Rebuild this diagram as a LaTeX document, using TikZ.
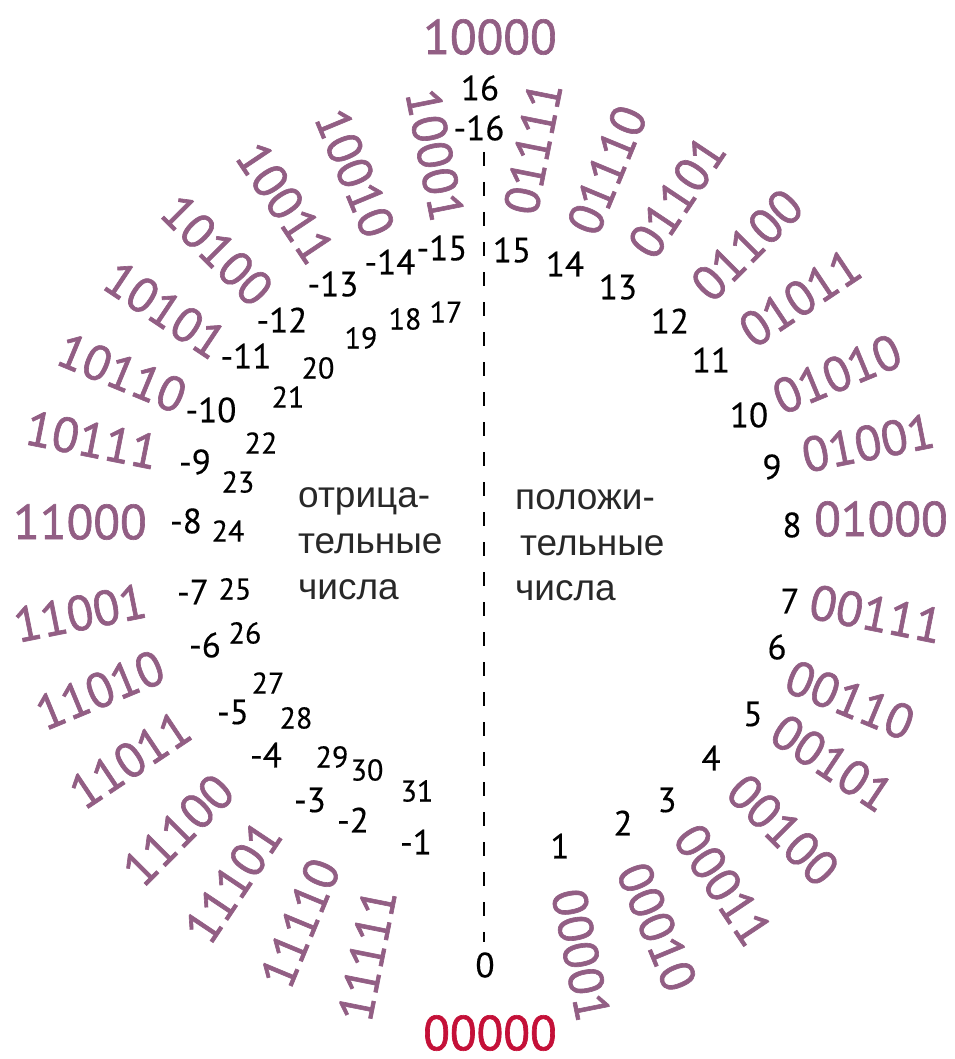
\documentclass[tikz,border=0pt]{standalone}
\usepackage{fontspec}
\setmainfont{PT Sans}
\newfontfamily\binfont{PT Sans}[FakeBold=1.3]
\newfontfamily\numfont{PT Sans}[FakeBold=0.4]
\newfontfamily\txtfont{Liberation Sans}
\definecolor{binc}{RGB}{146,94,132}
\definecolor{zeroc}{RGB}{196,16,56}
\definecolor{txtc}{RGB}{40,40,40}
\begin{document}
\begin{tikzpicture}[x=1pt,y=1pt,
  bin/.style={font=\binfont\fontsize{49}{49}\selectfont, text=binc, inner sep=0pt},
  zerobin/.style={font=\binfont\fontsize{49}{49}\selectfont, text=zeroc, inner sep=0pt},
  num/.style={font=\numfont\fontsize{35}{35}\selectfont, inner sep=0pt},
  sm/.style={font=\numfont\fontsize{30}{30}\selectfont, inner sep=0pt},
  lbl/.style={font=\txtfont\fontsize{37}{37}\selectfont, text=txtc, inner sep=0pt, anchor=base west},
  axis/.style={line width=2pt, dash pattern=on 14pt off 16pt}]
\useasboundingbox (0,0) rectangle (954,-1059);
% binary codes
\node[zerobin] (b0) at (490,-1033) {00000};
\node[bin] (b16) at (490,-37) {10000};
\foreach \k/\x/\y/\r/\s in {
  1/581/955/-78.75/00001, 2/657/927/-67.5/00010, 3/723/885/-56.25/00011,
  4/783/830/-45/00100, 5/832/763/-33.75/00101, 6/850/700/-22.5/00110,
  7/876/614/-11.25/00111, 8/881/519/0/01000, 9/868/443/11.25/01001,
  10/837/374/22.5/01010, 11/800/298/33.75/01011, 12/747/245/45/01100,
  13/677/197/56.25/01101, 14/607/170/67.5/01110, 15/533/148/78.75/01111,
  17/435/155/-78.75/10001, 18/355/173/-67.5/10010, 19/285/203/-56.25/10011,
  20/217/250/-45/10100, 21/165/310/-33.75/10101, 22/122/373/-22.5/10110,
  23/92/440/-11.25/10111, 24/80/522/0/11000, 25/80/613/11.25/11001,
  26/100/690/22.5/11010, 27/130/760/33.75/11011, 28/178/830/45/11100,
  29/233/882/56.25/11101, 30/300/923/67.5/11110, 31/367/955/78.75/11111}
  {\node[bin, rotate=\r] (b\k) at (\x,-\y) {\s};}
% positive numbers
\foreach \k/\x/\y in {0/485/965, 1/560/846, 2/623/823, 3/667/800, 4/711/758,
  5/753/714, 6/777/647, 7/790/601, 8/792/525, 9/772/467, 10/749/415,
  11/711/360, 12/670/321, 13/618/287, 14/565/264, 15/512/250, 16/480/88}
  {\node[num] (p\k) at (\x,-\y) {\k};}
% negative numbers
\foreach \k/\x/\y in {1/416/842, 2/353/820, 3/310/800, 4/266/755, 5/233/712,
  6/205/645, 7/193/592, 8/186/521, 9/195/462, 10/211/410, 11/246/356,
  12/282/320, 13/333/284, 14/390/262, 15/442/248, 16/479/128}
  {\node[num] (n\k) at (\x,-\y) {-\k};}
% inner numbers 17..31
\foreach \k/\x/\y in {17/446/312, 18/405/319, 19/361/338, 20/318/368,
  21/288/397, 22/261/443, 23/238/482, 24/228/531, 25/235/589, 26/245/633,
  27/268/683, 28/296/718, 29/332/757, 30/367/770, 31/417/791}
  {\node[sm] (q\k) at (\x,-\y) {\k};}
% dividing line
\coordinate (dtop) at (484,-152);
\coordinate (dbot) at (484,-942);
\draw[axis] (dtop) -- (dbot);
% captions
\node[lbl] (tl1) at (298,-507) {отрица-};
\node[lbl] (tl2) at (298,-553) {тельные};
\node[lbl] (tl3) at (298,-599) {числа};
\node[lbl] (tr1) at (515,-509) {положи-};
\node[lbl] (tr2) at (520,-555) {тельные};
\node[lbl] (tr3) at (515,-600) {числа};
\end{tikzpicture}
\end{document}
